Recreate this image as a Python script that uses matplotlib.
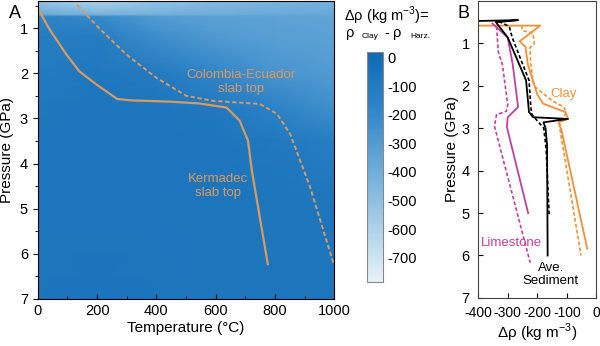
import matplotlib
matplotlib.use("Agg")
import matplotlib.pyplot as plt
import numpy as np
from matplotlib.colors import LinearSegmentedColormap
from matplotlib.ticker import MultipleLocator

plt.rcParams["font.family"] = ["Liberation Sans", "DejaVu Sans"]
plt.rcParams["axes.unicode_minus"] = False
plt.rcParams["mathtext.fontset"] = "custom"
plt.rcParams["mathtext.rm"] = "Liberation Sans"

# --- panel A: density contrast field (kg m^-3) ---
field_T = [0, 200, 400, 600, 800, 1000]
field_P = [0.4, 0.7, 0.75, 1.2, 2.0, 2.8, 3.5, 5.0, 7.0]
field_drho = [
    [-520, -600, -520, -470, -440, -420],
    [-380, -430, -420, -400, -380, -370],
    [-150, -200, -300, -330, -340, -350],
    [-120, -110, -220, -290, -320, -330],
    [-100, -80, -100, -180, -260, -300],
    [-80, -70, -70, -90, -150, -230],
    [-70, -70, -70, -70, -90, -130],
    [-70, -70, -70, -65, -65, -65],
    [-65, -60, -65, -65, -65, -65],
]

kermadec_T = [0, 37, 95, 139, 196, 268, 313, 450, 546, 637, 681, 709, 722, 776]
kermadec_P = [0.56, 1.0, 1.57, 1.95, 2.24, 2.57, 2.6, 2.63, 2.67, 2.76, 3.05, 3.49, 4.15, 6.23]
colombia_T = [133, 207, 298, 400, 501, 590, 749, 807, 851, 885, 919, 997]
colombia_P = [0.49, 1.0, 1.58, 2.10, 2.50, 2.61, 2.68, 2.90, 3.34, 3.93, 4.53, 6.2]

# --- panel B: density contrast profiles vs pressure ---
clay_x = [-400, -190, -260, -240, -232, -200, -180, -105, -96, -128, -118, -31]
clay_p = [0.58, 0.58, 0.95, 1.08, 1.5, 2.2, 2.42, 2.62, 2.78, 2.86, 3.05, 5.84]
clay_dash_x = [-252, -250, -215, -210, -225, -222, -212, -150, -110, -103, -115, -125, -52]
clay_dash_p = [0.58, 0.7, 0.75, 1.0, 1.1, 1.5, 2.0, 2.35, 2.5, 2.64, 2.8, 2.95, 6.0]
sed_x = [-400, -265, -340, -300, -238, -228, -214, -96, -179, -172, -167, -165]
sed_p = [0.47, 0.45, 0.5, 0.86, 1.87, 2.62, 2.74, 2.78, 2.86, 3.0, 3.4, 6.0]
sed_dash_x = [-330, -295, -285, -228, -222, -218, -178, -170, -160]
sed_dash_p = [0.48, 0.6, 0.86, 1.87, 2.5, 2.68, 3.0, 3.5, 5.05]
lime_x = [-352, -300, -283, -265, -300, -303, -231]
lime_p = [0.53, 0.86, 1.5, 2.5, 2.74, 2.97, 5.0]
lime_dash_x = [-338, -332, -318, -300, -305, -338, -345, -224]
lime_dash_p = [0.6, 1.2, 1.5, 2.45, 2.6, 2.68, 2.95, 6.17]

cbar_ticks = [0, -100, -200, -300, -400, -500, -600, -700]

tan = "#d99a62"
orange = "#f0913a"
magenta = "#c2409e"
dash = (0, (2.2, 1.4))

cmap = LinearSegmentedColormap.from_list(
    "drho", [(0, "#e8f3f8"), (0.25, "#a9cfe8"), (0.5, "#6aaad9"), (0.75, "#3186c8"), (1, "#0e69b4")]
)

fig = plt.figure(figsize=(6.0, 3.46), dpi=100)
axA = fig.add_axes([0.063, 0.136, 0.494, 0.861])
cax = fig.add_axes([0.612, 0.185, 0.027, 0.665])
axB = fig.add_axes([0.797, 0.139, 0.197, 0.858])

TT, PP = np.meshgrid(field_T, field_P)
mesh = axA.pcolormesh(TT, PP, np.array(field_drho), cmap=cmap, vmin=-785, vmax=20, shading="gouraud")
axA.plot(kermadec_T, kermadec_P, color=tan, lw=1.6)
axA.plot(colombia_T, colombia_P, color=tan, lw=1.4, ls=dash)
axA.text(685, 2.2, "Colombia-Ecuador\nslab top", color=tan, fontsize=9.5, ha="center", va="center", linespacing=1.2)
axA.text(607, 4.5, "Kermadec\nslab top", color=tan, fontsize=9.5, ha="center", va="center", linespacing=1.2)
axA.set_xlim(0, 1000)
axA.set_ylim(7, 0.4)
axA.xaxis.set_major_locator(MultipleLocator(200))
axA.xaxis.set_minor_locator(MultipleLocator(100))
axA.yaxis.set_major_locator(MultipleLocator(1))
axA.yaxis.set_minor_locator(MultipleLocator(0.5))
axA.tick_params(axis="x", which="both", direction="in", labelsize=10.5)
axA.tick_params(axis="y", which="both", direction="out", labelsize=10.5)
axA.set_xlabel("Temperature (°C)", fontsize=11, labelpad=2)
axA.set_ylabel("Pressure (GPa)", fontsize=11, labelpad=4)

cb = fig.colorbar(mesh, cax=cax)
cb.set_ticks(cbar_ticks)
cb.set_ticklabels([str(t) for t in cbar_ticks])
cb.ax.tick_params(length=0, labelsize=10.5, pad=3)
cb.outline.set_edgecolor("#888888")
cb.ax.set_ylim(-785, 20)

fig.text(0.645, 0.955, r"Δρ (kg m$^{\mathregular{-3}}$)=", fontsize=10.5, ha="center", va="center")
fig.text(0.583, 0.905, "ρ", fontsize=10.5, ha="center", va="center")
fig.text(0.617, 0.895, "Clay", fontsize=6, ha="center", va="center")
fig.text(0.645, 0.905, "-", fontsize=10.5, ha="center", va="center")
fig.text(0.662, 0.905, "ρ", fontsize=10.5, ha="center", va="center")
fig.text(0.700, 0.895, "Harz.", fontsize=6, ha="center", va="center")

axB.plot(clay_x, clay_p, color=orange, lw=1.3)
axB.plot(clay_dash_x, clay_dash_p, color=orange, lw=1.2, ls=dash)
axB.plot(lime_x, lime_p, color=magenta, lw=1.3)
axB.plot(lime_dash_x, lime_dash_p, color=magenta, lw=1.2, ls=dash)
axB.plot(sed_x, sed_p, color="black", lw=1.3)
axB.plot(sed_dash_x, sed_dash_p, color="black", lw=1.2, ls=dash)
axB.text(-110, 2.2, "Clay", color=orange, fontsize=9.5, ha="center", va="center")
axB.text(-286, 5.7, "Limestone", color=magenta, fontsize=9.5, ha="center", va="center")
axB.text(-155, 6.45, "Ave.\nSediment", color="black", fontsize=9.5, ha="center", va="center", linespacing=1.2)
axB.set_xlim(-400, 0)
axB.set_ylim(7, 0)
axB.xaxis.set_major_locator(MultipleLocator(100))
axB.set_yticks([1, 2, 3, 4, 5, 6, 7])
axB.tick_params(axis="y", direction="in", labelsize=10.5, pad=6)
axB.tick_params(axis="x", direction="in", labelsize=10, pad=6)
axB.set_xlabel(r"Δρ (kg m$^{\mathregular{-3}}$)", fontsize=11, labelpad=1)
axB.set_ylabel("Pressure (GPa)", fontsize=11, labelpad=2)
for sp in axB.spines.values():
    sp.set_color("#444444")

fig.text(0.025, 0.962, "A", fontsize=13, ha="center", va="center")
fig.text(0.772, 0.962, "B", fontsize=13, ha="center", va="center")

fig.savefig("out.png", dpi=100, facecolor="white")
